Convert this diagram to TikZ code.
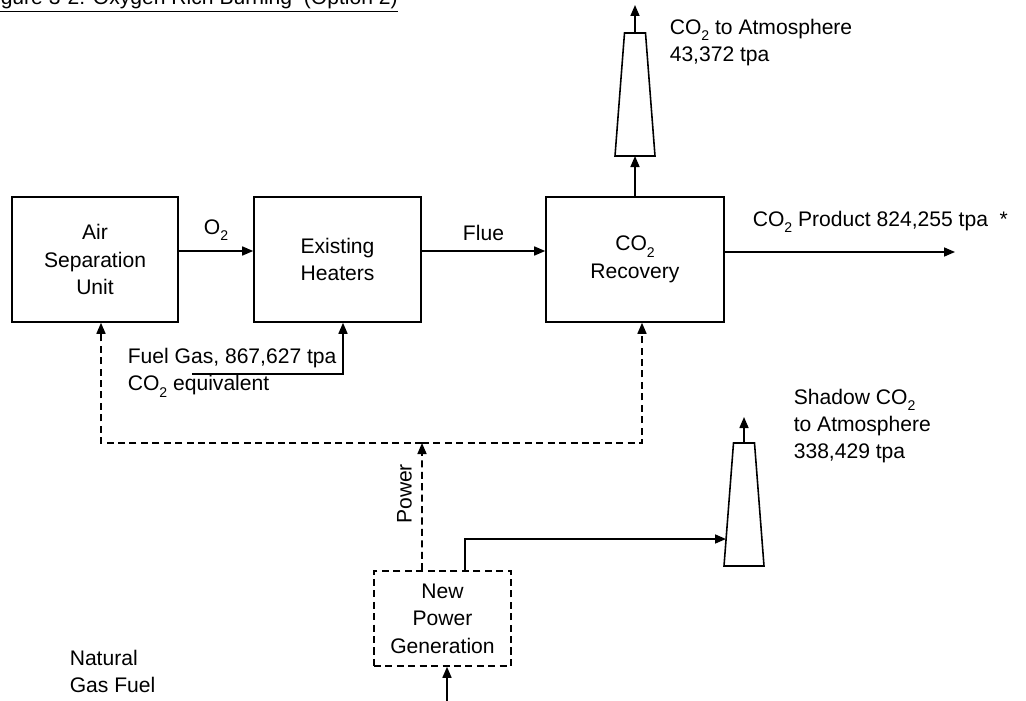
\documentclass[tikz,border=0pt]{standalone}
\usepackage{fontspec}
\setmainfont{Liberation Sans}
\usetikzlibrary{arrows.meta}

\newcommand{\subtwo}{\raisebox{-3.6pt}{\fontsize{8pt}{8pt}\selectfont 2}}
\newcommand{\cotwo}{CO\subtwo}

\begin{document}
\begin{tikzpicture}[x=0.2mm, y=-0.2mm, line width=0.9pt, font=\fontsize{12pt}{15.6pt}\selectfont,
  block/.style={rectangle, draw, minimum height=25mm, align=center, inner sep=2pt},
  dashblock/.style={block, dash pattern=on 4pt off 2.5pt, minimum width=27.4mm, minimum height=19mm},
  flow/.style={-{Triangle[length=2.2mm, width=1.8mm]}},
  power/.style={flow, dash pattern=on 4pt off 2.5pt},
  lbl/.style={inner sep=0pt, anchor=west, align=left}]
  {
  \path[use as bounding box, clip] (0,0) rectangle (1026,701);

  % title, cut by the page edge
  \node[inner sep=0pt, anchor=base west] (title) at (-17.6,5) {\underline{Figure 3-2: Oxygen Rich Burning\ \ (Option 2)}};

  % main units
  \node[block, minimum width=33.2mm] (asu) at (95,259.5) {Air\\Separation\\Unit};
  \node[block, minimum width=33.4mm] (heat) at (337.5,259.5) {Existing\\Heaters};
  \node[block, minimum width=35.6mm] (rec) at (635,259.5) {\cotwo\\Recovery};
  \node[dashblock] (npg) at (442.5,618.5) {New\\Power\\Generation};

  % stacks (bottom and top centres)
  \coordinate (stk1b) at (635,156);
  \coordinate (stk1t) at (635,33);
  \coordinate (stk2b) at (744,566);
  \coordinate (stk2t) at (744,443);
  \draw (stk1b) ++(-20,0) -- ++(9.5,-123) -- ++(21,0) -- ++(9.5,123) -- cycle;
  \draw (stk2b) ++(-20,0) -- ++(9.5,-123) -- ++(21,0) -- ++(9.5,123) -- cycle;

  \coordinate (vent1) at (635,5);
  \coordinate (vent2) at (744,417);
  \coordinate (stk2in) at (726,539);
  \coordinate (prodout) at (955,252);
  \coordinate (fuelin) at (192,374);
  \coordinate (bus) at (422,443);
  \coordinate (gasin) at (447,701);

  % labels
  \node[lbl] (prodlbl) at (752,222) {\cotwo{} Product 824,255 tpa\ \ *};
  \node[lbl] (atmlbl) at (669,42.5) {\cotwo{} to Atmosphere\\43,372 tpa};
  \node[lbl] (fuellbl) at (127,372.5) {Fuel Gas, 867,627 tpa\\\cotwo{} equivalent};
  \node[lbl] (shadowlbl) at (793,426) {Shadow \cotwo\\to Atmosphere\\338,429 tpa};
  \node[lbl] (nglbl) at (69,671.5) {Natural\\Gas Fuel};

  % process streams
  \draw[flow] ([yshift=1.7mm]asu.east) -- node[above=2pt] {O\subtwo} ([yshift=1.7mm]heat.west);
  \draw[flow] ([yshift=1.7mm]heat.east) -- node[above=2pt] {Flue} ([yshift=1.7mm]rec.west);
  \draw[flow] ([yshift=1.5mm]rec.east) -- (prodout);
  \draw[flow] (rec.north) -- (stk1b);
  \draw[flow] (stk1t) -- (vent1);
  \draw[flow] (fuelin) -| ([xshift=1.1mm]heat.south);
  \draw[flow] (gasin) -- ([xshift=0.9mm]npg.south);
  \draw[flow] ([xshift=4.5mm]npg.north) |- (stk2in);
  \draw[flow] (stk2t) -- (vent2);

  % power distribution
  \draw[power] ([xshift=-4.1mm]npg.north) -- node[pos=0.6, above=2pt, sloped] {Power} (bus);
  \draw[power] (bus) -| ([xshift=1.2mm]asu.south);
  \draw[power] (bus) -| ([xshift=1.4mm]rec.south);
  }
\end{tikzpicture}
\end{document}
